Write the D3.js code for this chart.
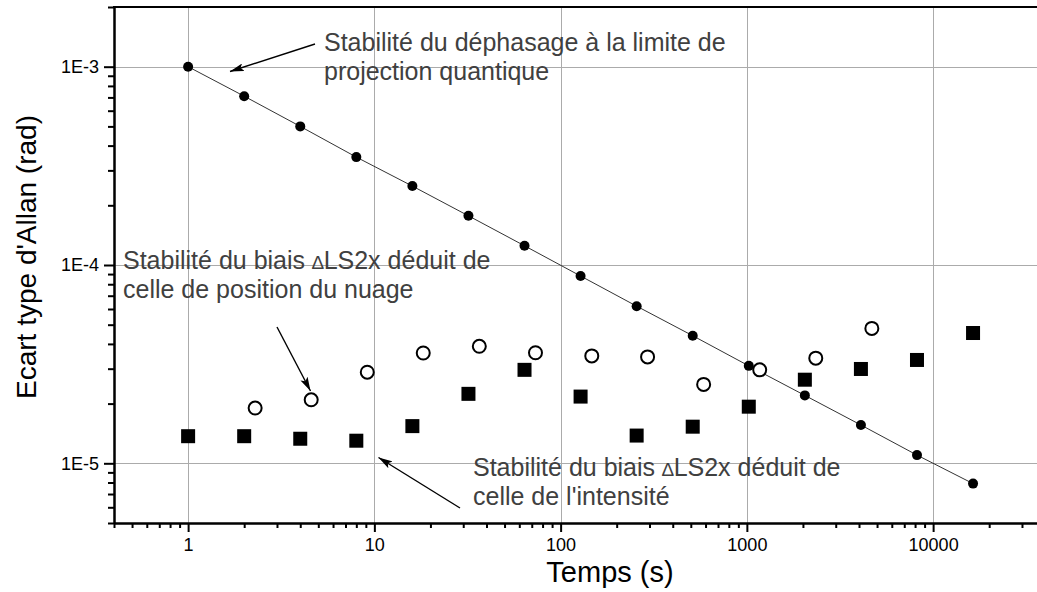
<!DOCTYPE html>
<html>
<head>
<meta charset="utf-8">
<script src="https://cdn.jsdelivr.net/npm/d3@7"></script>
<style>
  html, body { margin: 0; padding: 0; background: #fff; }
  svg { display: block; font-family: "Liberation Sans", Arial, sans-serif; }
</style>
</head>
<body>
<svg id="chart" width="1037" height="592"></svg>
<script>
// ---- Data ----
const tauA = [1, 2, 4, 8, 16, 32, 64, 128, 256, 512, 1024, 2048, 4096, 8192, 16384];
const sigmaProjection = [1.0e-3, 7.1e-4, 5.0e-4, 3.5e-4, 2.5e-4, 1.77e-4, 1.25e-4, 8.8e-5, 6.2e-5, 4.4e-5, 3.1e-5, 2.2e-5, 1.56e-5, 1.1e-5, 7.9e-6];
const sigmaIntensity = [1.37e-5, 1.37e-5, 1.33e-5, 1.30e-5, 1.54e-5, 2.24e-5, 2.96e-5, 2.17e-5, 1.38e-5, 1.53e-5, 1.93e-5, 2.64e-5, 2.99e-5, 3.32e-5, 4.54e-5];
const tauB = [2.29, 4.58, 9.16, 18.3, 36.6, 73.3, 147, 293, 586, 1172, 2344, 4689];
const sigmaPosition = [1.90e-5, 2.09e-5, 2.88e-5, 3.60e-5, 3.89e-5, 3.61e-5, 3.48e-5, 3.44e-5, 2.50e-5, 2.96e-5, 3.39e-5, 4.79e-5];
const xMajorTicks = [1, 10, 100, 1000, 10000];
const xTickLabels = ["1", "10", "100", "1000", "10000"];
const yMajorTicks = [1e-3, 1e-4, 1e-5];
const yTickLabels = ["1E-3", "1E-4", "1E-5"];
const annotations = [
  { lines: ["Stabilité du déphasage à la limite de", "projection quantique"] },
  { lines: ["Stabilité du biais |∆|LS2x déduit de", "celle de position du nuage"] },
  { lines: ["Stabilité du biais |∆|LS2x déduit de", "celle de l'intensité"] }
];

// ---- Layout ----
const svg = d3.select("#chart");
const plotLeft = 114, plotTop = 7, plotBottom = 523;
const x = d3.scaleLog().domain([0.4, 40000]).range([plotLeft, plotLeft + 5 * 186.25]);
const y = d3.scaleLog().domain([5e-6, 2e-3]).range([plotBottom, plotTop]);

// gridlines
const grid = svg.append("g").attr("stroke", "#ababab").attr("stroke-width", 1);
grid.selectAll(".gx").data(xMajorTicks).enter().append("line")
  .attr("x1", d => Math.round(x(d)) + 0.5).attr("x2", d => Math.round(x(d)) + 0.5)
  .attr("y1", plotTop).attr("y2", plotBottom);
grid.selectAll(".gy").data(yMajorTicks).enter().append("line")
  .attr("y1", d => Math.round(y(d)) + 0.5).attr("y2", d => Math.round(y(d)) + 0.5)
  .attr("x1", plotLeft).attr("x2", 1037);

// minor ticks
const xMinor = [];
[0.1, 1, 10, 100, 1000, 10000].forEach(dec => { for (let k = 2; k <= 9; k++) { const v = dec * k; if (v >= 0.399 && v <= 40000) xMinor.push(v); } });
const yMinor = [];
[1e-6, 1e-5, 1e-4, 1e-3].forEach(dec => { for (let k = 2; k <= 9; k++) { const v = dec * k; if (v >= 5e-6 * 0.999 && v <= 2e-3 * 1.001) yMinor.push(v); } });

// bottom axis
const xAxisMajor = d3.axisBottom(x).tickValues(xMajorTicks).tickSize(9).tickSizeOuter(0)
  .tickFormat((d, i) => xTickLabels[i]).tickPadding(6);
const gx = svg.append("g").attr("transform", `translate(0,${plotBottom})`).call(xAxisMajor);
const gxm = svg.append("g").attr("transform", `translate(0,${plotBottom})`)
  .call(d3.axisBottom(x).tickValues(xMinor).tickSize(5).tickSizeOuter(0).tickFormat(""));
// left axis
const yAxisMajor = d3.axisLeft(y).tickValues(yMajorTicks).tickSize(10).tickSizeOuter(0)
  .tickFormat((d, i) => yTickLabels[i]).tickPadding(5);
const gy = svg.append("g").attr("transform", `translate(${plotLeft},0)`).call(yAxisMajor);
const gym = svg.append("g").attr("transform", `translate(${plotLeft},0)`)
  .call(d3.axisLeft(y).tickValues(yMinor).tickSize(6).tickSizeOuter(0).tickFormat(""));
[gx, gxm, gy, gym].forEach(g => {
  g.select(".domain").attr("stroke", "#000").attr("stroke-width", 2);
  g.selectAll(".tick line").attr("stroke", "#000").attr("stroke-width", 2);
  g.selectAll(".tick text").attr("fill", "#000").attr("font-size", 18)
    .attr("font-family", "Liberation Sans, Arial, sans-serif");
});
// top frame
svg.append("line").attr("x1", plotLeft - 1).attr("x2", 1037).attr("y1", plotTop).attr("y2", plotTop)
  .attr("stroke", "#000").attr("stroke-width", 2);

// axis titles
svg.append("text").attr("x", 610).attr("y", 582).attr("text-anchor", "middle")
  .attr("font-size", 29).attr("fill", "#000").text("Temps (s)");
svg.append("text").attr("transform", "translate(36,257) rotate(-90)").attr("text-anchor", "middle")
  .attr("font-size", 28).attr("fill", "#000").text("Ecart type d'Allan (rad)");

// line through projection points
const lineGen = d3.line().x(d => x(d[0])).y(d => y(d[1]));
svg.append("path").datum(tauA.map((t, i) => [t, sigmaProjection[i]]))
  .attr("d", lineGen).attr("fill", "none").attr("stroke", "#333").attr("stroke-width", 1);

// filled circles
svg.append("g").selectAll("circle").data(tauA).enter().append("circle")
  .attr("cx", d => x(d)).attr("cy", (d, i) => y(sigmaProjection[i])).attr("r", 5).attr("fill", "#000");
// squares
const sq = 14;
svg.append("g").selectAll("rect").data(tauA).enter().append("rect")
  .attr("x", d => x(d) - sq / 2).attr("y", (d, i) => y(sigmaIntensity[i]) - sq / 2)
  .attr("width", sq).attr("height", sq).attr("fill", "#000");
// open circles
svg.append("g").selectAll("circle").data(tauB).enter().append("circle")
  .attr("cx", d => x(d)).attr("cy", (d, i) => y(sigmaPosition[i])).attr("r", 6.5)
  .attr("fill", "#fff").attr("stroke", "#000").attr("stroke-width", 2);

// annotations text
const annPos = [[324, 51], [123, 269], [473, 476]];
annotations.forEach((a, k) => {
  const t = svg.append("text").attr("x", annPos[k][0]).attr("y", annPos[k][1])
    .attr("font-size", 25).attr("fill", "#404040");
  a.lines.forEach((ln, j) => {
    const ts = t.append("tspan").attr("x", annPos[k][0]).attr("dy", j === 0 ? 0 : 28.5);
    ln.split("|").forEach(p => {
      if (p === "∆") ts.append("tspan").attr("font-size", 19).text("∆");
      else ts.append("tspan").text(p);
    });
  });
});

// arrows
const defs = svg.append("defs");
defs.append("marker").attr("id", "ah").attr("viewBox", "0 0 14 8").attr("refX", 14).attr("refY", 4)
  .attr("markerWidth", 14).attr("markerHeight", 8).attr("markerUnits", "userSpaceOnUse").attr("orient", "auto")
  .append("path").attr("d", "M0,0 L14,4 L0,8 L3,4 Z").attr("fill", "#000");
const arrows = [[[315, 44], [230, 71.5]], [[277, 327], [310.5, 391]], [[460, 508], [378.5, 457.5]]];
arrows.forEach(a => {
  svg.append("line").attr("x1", a[0][0]).attr("y1", a[0][1]).attr("x2", a[1][0]).attr("y2", a[1][1])
    .attr("stroke", "#000").attr("stroke-width", 1.4).attr("marker-end", "url(#ah)");
});
</script>
</body>
</html>
